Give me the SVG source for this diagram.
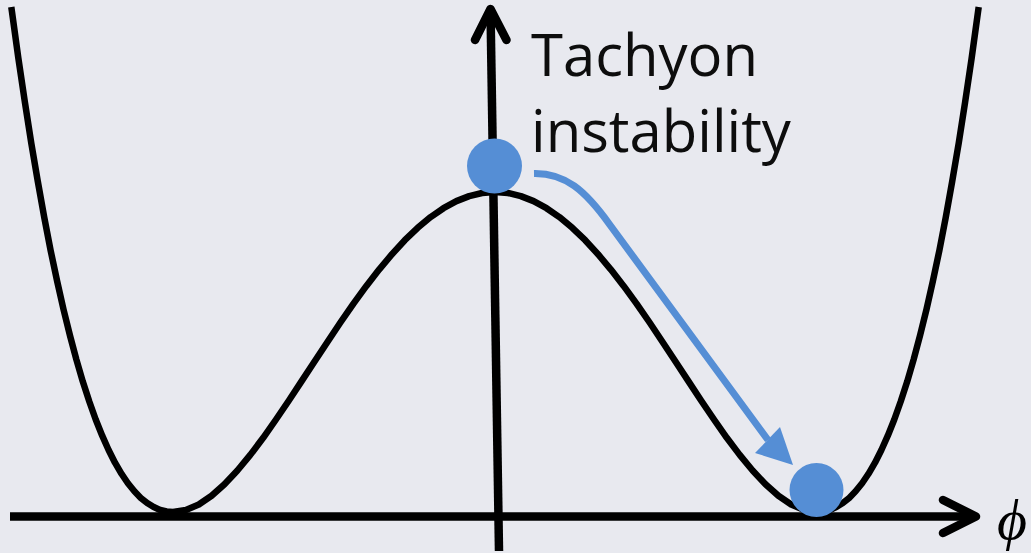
<svg xmlns="http://www.w3.org/2000/svg" width="1031" height="553" viewBox="0 0 1031 553">
<style>
.bg{fill:#e8e9ef}
.pot{fill:none;stroke:#000;stroke-width:6.5;stroke-linejoin:round}
.axis{fill:none;stroke:#000;stroke-width:8.5;stroke-linecap:round;stroke-linejoin:round}
.flow{fill:none;stroke:#558ed5;stroke-width:7}
.ball{fill:#558ed5}
.lbl{font-family:"Open Sans","Noto Sans",sans-serif;font-size:58px;fill:#0d0d0d}
.phi{font-family:"Liberation Serif","DejaVu Serif",serif;font-style:italic;font-size:58px;fill:#000}
</style>
<rect class="bg" x="0" y="0" width="1031" height="553"/>
<g id="potential">
<polyline class="pot" points="11.3,7 12.0,12.0 18.4,58.5 24.9,102.2 31.3,143.2 37.8,181.4 44.2,217.1 50.6,250.3 57.1,281.0 63.5,309.4 70.0,335.6 76.4,359.6 82.8,381.6 89.3,401.5 95.7,419.5 102.2,435.7 108.6,450.0 115.0,462.7 121.5,473.8 127.9,483.3 134.4,491.3 140.8,497.9 147.2,503.1 153.7,507.1 160.1,509.9 166.6,511.5 173.0,512.0 185.9,510.0 198.8,504.5 211.6,495.7 224.5,484.3 237.4,470.5 250.3,454.9 263.2,437.8 276.0,419.5 288.9,400.5 301.8,380.9 314.7,361.2 327.6,341.7 340.4,322.5 353.3,303.9 366.2,286.2 379.1,269.6 392.0,254.2 404.8,240.2 417.7,227.8 430.6,217.1 443.5,208.2 456.4,201.1 469.2,196.1 482.1,193.0 495,192 507.9,193.0 520.8,196.1 533.6,201.1 546.5,208.2 559.4,217.1 572.3,227.8 585.2,240.2 598.0,254.2 610.9,269.6 623.8,286.2 636.7,303.9 649.6,322.5 662.4,341.7 675.3,361.2 688.2,380.9 701.1,400.5 714.0,419.5 726.8,437.8 739.7,454.9 752.6,470.5 765.5,484.3 778.4,495.7 791.2,504.5 804.1,510.0 817.0,512.0 823.4,511.5 829.9,509.9 836.3,507.1 842.8,503.1 849.2,497.9 855.6,491.3 862.1,483.3 868.5,473.8 875.0,462.7 881.4,450.0 887.8,435.7 894.3,419.5 900.7,401.5 907.2,381.6 913.6,359.6 920.0,335.6 926.5,309.4 932.9,281.0 939.4,250.3 945.8,217.1 952.2,181.4 958.7,143.2 965.1,102.2 971.6,58.5 978.0,12.0 978.7,7"/>
</g>
<g id="connectors">
<g id="x-axis">
<line class="axis" x1="10" y1="516.5" x2="975" y2="516.5" style="stroke-linecap:butt"/>
<polyline class="axis" points="943,500 976,516.5 943,533"/>
</g>
<g id="y-axis">
<line class="axis" x1="490.5" y1="9" x2="499" y2="551" style="stroke-linecap:butt"/>
<polyline class="axis" points="475,40 490.5,9 506.5,40"/>
</g>
<g id="roll-arrow">
<path class="flow" d="M534,173.5 C565,173 585,190 610,225 L768,440"/>
<polygon class="ball" points="793,465 780,427 755,453"/>
</g>
</g>
<g id="ball-top"><circle class="ball" cx="494.5" cy="166" r="27.5"/></g>
<g id="ball-bottom"><circle class="ball" cx="816.5" cy="490" r="27"/></g>
<g id="label">
<text class="lbl" x="531" y="76">Tachyon</text>
<text class="lbl" x="531" y="152">instability</text>
</g>
<g id="phi-label"><text class="phi" x="997" y="539">ϕ</text></g>
</svg>
